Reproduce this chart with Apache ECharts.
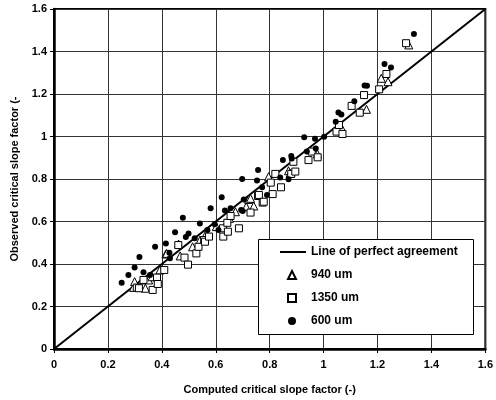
<!DOCTYPE html>
<html>
<head>
<meta charset="utf-8">
<script src="https://cdn.jsdelivr.net/npm/echarts@6/dist/echarts.min.js"></script>
<style>html,body{margin:0;padding:0;background:#fff}#c{width:496px;height:400px}</style>
</head>
<body>
<div id="c"></div>
<script>
var xTicks = [0, 0.2, 0.4, 0.6, 0.8, 1, 1.2, 1.4, 1.6];
var perfectLine = [[0, 0], [1.6, 1.6]];
var um940 = [
[0.295,0.290],[0.299,0.317],[0.327,0.325],[0.339,0.286],[0.351,0.325],[0.364,0.340],[0.393,0.372],
[0.415,0.447],[0.418,0.450],[0.462,0.494],[0.468,0.438],[0.514,0.481],[0.542,0.513],[0.565,0.544],
[0.602,0.576],[0.651,0.615],[0.673,0.646],[0.713,0.670],[0.722,0.704],[0.741,0.673],[0.729,0.709],
[0.796,0.811],[0.870,0.839],[0.876,0.827],[0.977,0.918],[1.067,1.040],[1.159,1.128],[1.214,1.274],
[1.239,1.258],[1.316,1.431]
];
var um1350 = [
[0.307,0.289],[0.315,0.286],[0.332,0.325],[0.366,0.278],[0.382,0.336],[0.385,0.306],[0.409,0.372],
[0.461,0.489],[0.484,0.430],[0.497,0.397],[0.528,0.450],[0.536,0.481],[0.557,0.513],[0.560,0.505],
[0.575,0.529],[0.627,0.568],[0.628,0.529],[0.643,0.594],[0.645,0.552],[0.655,0.626],[0.686,0.568],
[0.729,0.642],[0.757,0.720],[0.760,0.725],[0.774,0.689],[0.778,0.693],[0.804,0.783],[0.811,0.729],
[0.821,0.824],[0.842,0.761],[0.880,0.824],[0.888,0.881],[0.895,0.835],[0.944,0.889],[0.956,0.929],
[0.978,0.902],[1.048,1.023],[1.057,1.054],[1.070,1.012],[1.104,1.144],[1.134,1.112],[1.150,1.195],
[1.206,1.222],[1.233,1.294],[1.306,1.439]
];
var um600 = [
[0.251,0.312],[0.276,0.348],[0.299,0.384],[0.317,0.433],[0.332,0.361],[0.356,0.348],[0.375,0.481],
[0.415,0.497],[0.428,0.453],[0.430,0.427],[0.449,0.549],[0.478,0.618],[0.489,0.527],[0.499,0.544],
[0.522,0.521],[0.541,0.591],[0.569,0.560],[0.581,0.662],[0.596,0.587],[0.610,0.560],[0.622,0.714],
[0.634,0.652],[0.655,0.662],[0.694,0.654],[0.700,0.649],[0.698,0.800],[0.704,0.704],[0.753,0.793],
[0.757,0.842],[0.772,0.761],[0.790,0.725],[0.839,0.807],[0.849,0.889],[0.870,0.799],[0.880,0.908],
[0.882,0.897],[0.928,0.996],[0.938,0.929],[0.968,0.990],[0.971,0.944],[1.002,0.999],[1.045,1.070],
[1.055,1.113],[1.066,1.103],[1.114,1.166],[1.152,1.240],[1.161,1.239],[1.226,1.341],[1.250,1.325],
[1.335,1.482]
];

var FONT = '"Liberation Sans", Arial, sans-serif';
var chart = echarts.init(document.getElementById('c'), null, {renderer: 'canvas'});
var axisCommon = {
  type: 'value', min: 0, max: 1.6, interval: 0.2,
  nameLocation: 'middle',
  nameTextStyle: {fontFamily: FONT, fontWeight: 'bold', fontSize: 11, color: '#000'},
  axisLine: {show: true, onZero: false, lineStyle: {color: '#000', width: 2.5}},
  axisTick: {show: true, length: 4, inside: false, lineStyle: {color: '#000', width: 1}},
  splitLine: {show: true, lineStyle: {color: '#333', width: 1}},
  axisLabel: {fontFamily: FONT, fontWeight: 'bold', fontSize: 11, color: '#000',
    formatter: function (v) { return String(Math.round(v * 10) / 10); }}
};
var legendText = {fontFamily: FONT, fontWeight: 'bold', fontSize: 12, color: '#000'};
chart.setOption({
  animation: false,
  backgroundColor: '#fff',
  grid: {left: 54, right: 8, top: 9, bottom: 51, show: true, borderColor: '#000', borderWidth: 2, backgroundColor: 'transparent'},
  xAxis: Object.assign({}, axisCommon, {
    name: 'Computed critical slope factor (-)', nameGap: 35,
    axisLabel: Object.assign({}, axisCommon.axisLabel, {margin: 10})
  }),
  yAxis: Object.assign({}, axisCommon, {
    name: 'Observed critical slope factor (-', nameGap: 31,
    axisLabel: Object.assign({}, axisCommon.axisLabel, {margin: 7})
  }),
  graphic: [{
    type: 'rect', left: 258, top: 239, z: 50,
    shape: {width: 215, height: 95},
    style: {fill: '#fff', stroke: '#000', lineWidth: 1}
  }],
  legend: [{
    orient: 'vertical', left: 280, top: 246, z: 60, padding: 0,
    itemWidth: 26, itemHeight: 2,
    textStyle: legendText,
    data: [{name: 'Line of perfect agreement', icon: 'rect'}]
  }, {
    orient: 'vertical', left: 287, top: 269, z: 60, padding: 0,
    itemWidth: 8, itemHeight: 8, itemGap: 11,
    textStyle: Object.assign({}, legendText, {padding: [0, 0, 0, 10]}),
    data: ['940 um', '1350 um', '600 um']
  }],
  series: [
    {name: 'Line of perfect agreement', type: 'line', data: perfectLine, symbol: 'none',
      lineStyle: {color: '#000', width: 2}, itemStyle: {color: '#000'}, z: 2},
    {name: '940 um', type: 'scatter', data: um940, symbol: 'triangle', symbolSize: 8,
      itemStyle: {color: '#fff', borderColor: '#000', borderWidth: 1, opacity: 1}, z: 3},
    {name: '1350 um', type: 'scatter', data: um1350, symbol: 'rect', symbolSize: 7,
      itemStyle: {color: '#fff', borderColor: '#000', borderWidth: 1, opacity: 1}, z: 4},
    {name: '600 um', type: 'scatter', data: um600, symbol: 'circle', symbolSize: 6,
      itemStyle: {color: '#000', borderWidth: 0, opacity: 1}, z: 5}
  ]
});
</script>
</body>
</html>
